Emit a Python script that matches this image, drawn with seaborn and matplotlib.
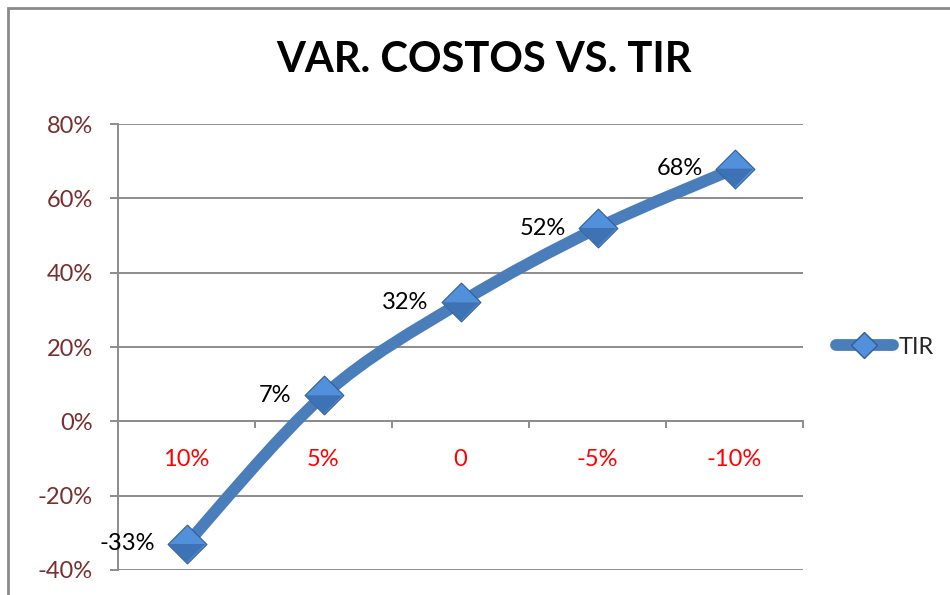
import numpy as np
import pandas as pd
import matplotlib
matplotlib.use("Agg")
import matplotlib.pyplot as plt
import seaborn as sns
from matplotlib.path import Path
from matplotlib.patches import PathPatch, Rectangle
from matplotlib.lines import Line2D

# ---- data ----
categories = ["10%", "5%", "0", "-5%", "-10%"]
tir_values = [-0.33, 0.07, 0.32, 0.52, 0.68]
tir_labels = ["-33%", "7%", "32%", "52%", "68%"]
y_ticks = [-0.4, -0.2, 0.0, 0.2, 0.4, 0.6, 0.8]
y_tick_labels = ["-40%", "-20%", "0%", "20%", "40%", "60%", "80%"]
series_name = "TIR"
title = "VAR. COSTOS VS. TIR"

df = pd.DataFrame({"pos": np.arange(len(categories)), "val": tir_values})

sns.set_theme(style="white")
plt.rcParams["font.family"] = ["Lato", "DejaVu Sans"]

W, H = 950, 595
fig = plt.figure(figsize=(W / 100, H / 100), dpi=100)
ax = fig.add_axes([118 / W, 1 - 570 / H, (803 - 118) / W, (570 - 124) / H])

LINE_C = "#4A7EBB"
MARK_C = "#5290DC"
MARK_D = "#3D72B4"
MARK_E = "#2F5E99"
GRID_C = "#8C8C8C"
FS = 17
MS = 390

# spines first (set_position resets ticks)
ax.spines["bottom"].set_position(("data", 0))
ax.spines["bottom"].set_color(GRID_C)
ax.spines["bottom"].set_linewidth(1.4)
ax.spines["left"].set_color(GRID_C)
ax.spines["left"].set_linewidth(1.4)
ax.spines["top"].set_visible(False)
ax.spines["right"].set_visible(False)

# smoothed line (Catmull-Rom style Bezier through the data points, in data coords)
xs = df["pos"].to_numpy(dtype=float)
ys = df["val"].to_numpy(dtype=float)
pts = np.column_stack([xs, ys])
verts = [tuple(pts[0])]
codes = [Path.MOVETO]
n = len(pts)
for i in range(n - 1):
    p0 = pts[i - 1] if i > 0 else pts[i]
    p1 = pts[i]
    p2 = pts[i + 1]
    p3 = pts[i + 2] if i + 2 < n else pts[i + 1]
    c1 = p1 + (p2 - p0) / 6.0
    c2 = p2 - (p3 - p1) / 6.0
    verts += [tuple(c1), tuple(c2), tuple(p2)]
    codes += [Path.CURVE4] * 3
ax.add_patch(PathPatch(Path(verts, codes), facecolor="none", edgecolor=LINE_C,
                       lw=8.5, capstyle="round", joinstyle="round", zorder=3))

# markers (diamond with darker lower half for a bevelled look)
sns.scatterplot(data=df, x="pos", y="val", marker="D", s=MS, color=MARK_C,
                edgecolor=MARK_E, linewidth=0.8, ax=ax, zorder=4, legend=False)
lower_half = Path([(-1, 0), (1, 0), (0, -1), (-1, 0)],
                  [Path.MOVETO, Path.LINETO, Path.LINETO, Path.CLOSEPOLY])
sns.scatterplot(data=df, x="pos", y="val", marker=lower_half, s=MS * 1.85, color=MARK_D,
                edgecolor="none", linewidth=0, ax=ax, zorder=4.5, legend=False)

# data labels
for x, y, lab in zip(xs, ys, tir_labels):
    ax.annotate(lab, (x, y), xytext=(-23, 0), textcoords="offset points",
                ha="right", va="center", fontsize=FS, color="black", zorder=5)

# axes
ax.set_xlim(-0.5, len(categories) - 0.5)
ax.set_ylim(-0.4, 0.8)
ax.set_yticks(y_ticks)
ax.set_yticklabels(y_tick_labels)
ax.yaxis.grid(True, color=GRID_C, lw=1.4)
ax.set_axisbelow(True)
ax.tick_params(axis="y", direction="out", length=6, width=1.4, color=GRID_C, pad=12,
               left=True, labelsize=FS, labelcolor="#7A2E2E")

ax.set_xticks(xs)
ax.set_xticklabels(categories)
ax.set_xticks(np.arange(-0.5, len(categories), 1.0), minor=True)
ax.tick_params(axis="x", which="major", length=0, pad=20, labelsize=FS, labelcolor="#FF0000")
ax.tick_params(axis="x", which="minor", direction="out", length=5, width=1.4, color=GRID_C, bottom=True)
ax.set_xlabel("")
ax.set_ylabel("")

# legend
handle = Line2D([0], [0], color=LINE_C, lw=8.5, solid_capstyle="round",
                marker="D", markersize=13, markerfacecolor=MARK_C, markeredgecolor=MARK_E)
fig.legend([handle], [series_name], loc="center left", bbox_to_anchor=(836 / W, 1 - 347 / H),
           frameon=False, fontsize=FS, handlelength=2.4, handletextpad=0.25, borderaxespad=0,
           borderpad=0)

# title
fig.text(484 / W, 1 - 60 / H, title, ha="center", va="center", fontsize=30,
         fontweight="bold", color="black")

# outer chart frame (cropped on right and bottom)
fig.patches.append(Rectangle((8 / W, -0.2), 1.5, 1.2 - 8 / H, transform=fig.transFigure,
                             fill=False, edgecolor="#8A8A8A", lw=2.0, zorder=0))

fig.savefig("out.png", dpi=100)
